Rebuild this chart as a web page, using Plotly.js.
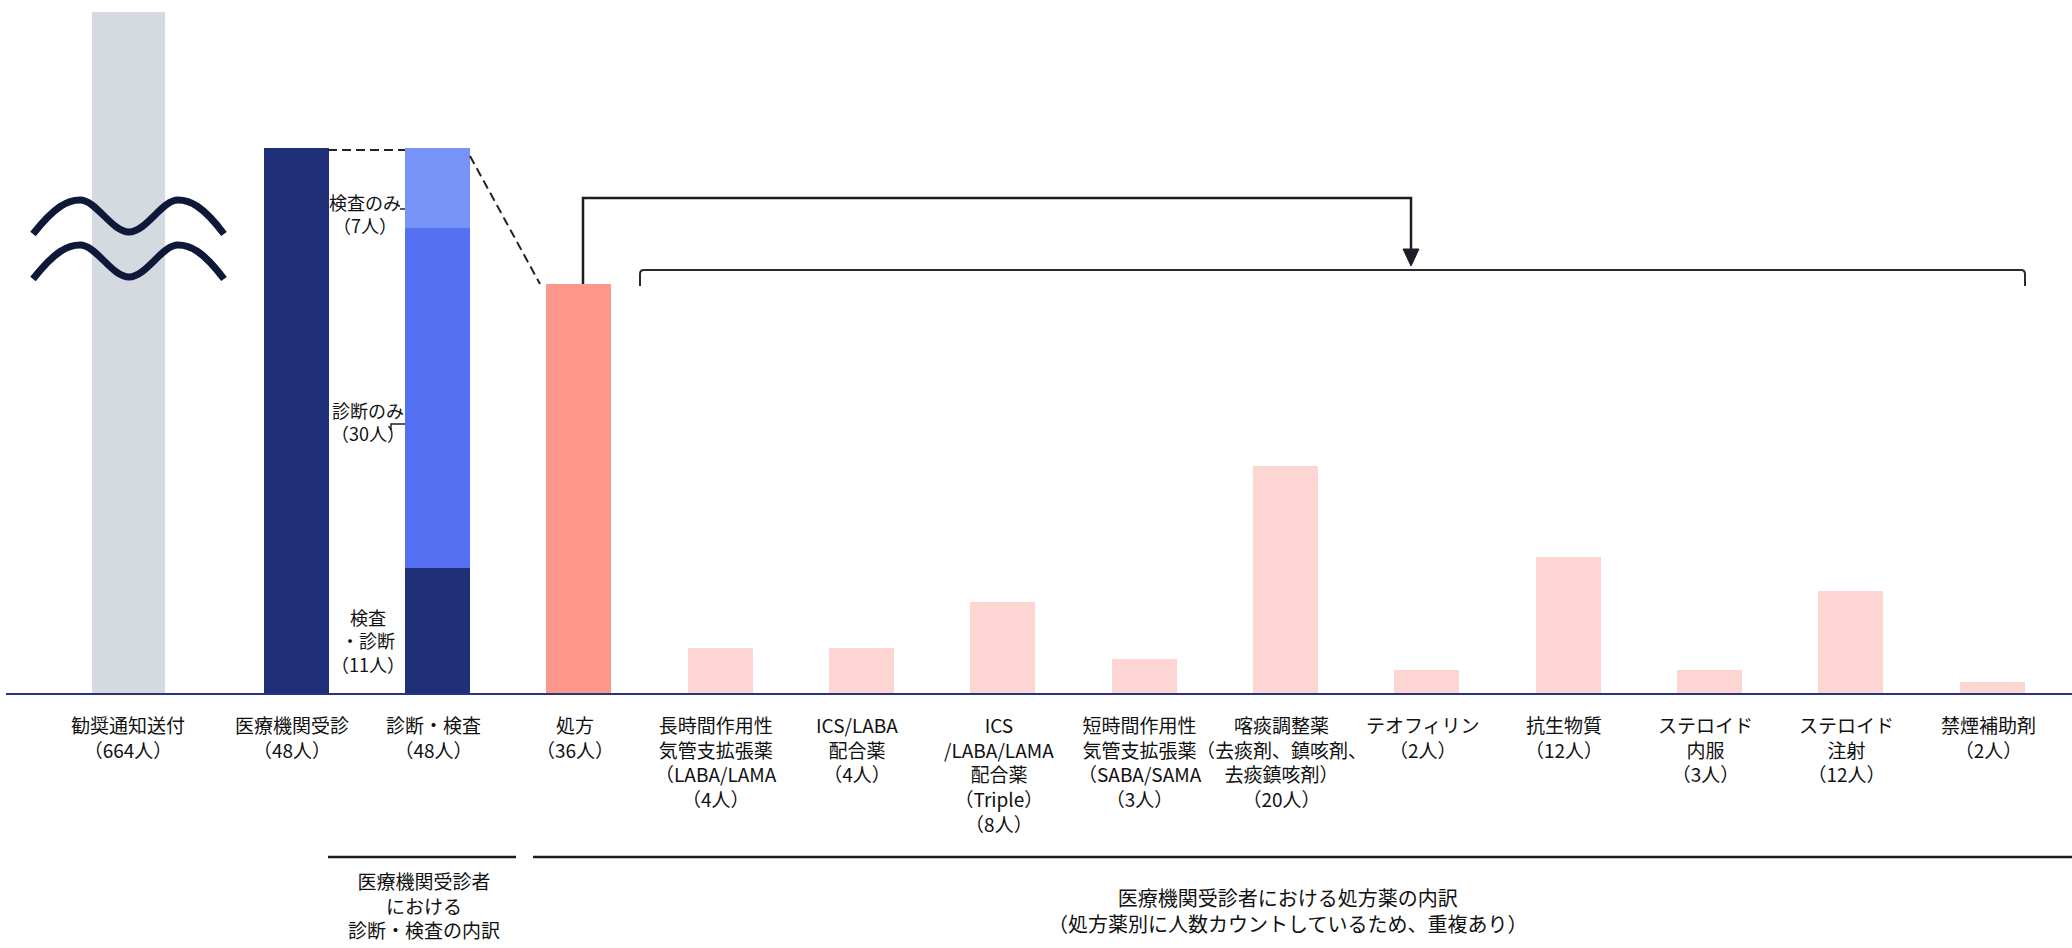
<!DOCTYPE html>
<html>
<head>
<meta charset="utf-8">
<script src="https://cdn.plot.ly/plotly-3.0.1.min.js"></script>
<style>
  html, body { margin: 0; padding: 0; background: #ffffff; }
  #chart { width: 2072px; height: 948px; }
</style>
</head>
<body>
<div id="chart"></div>
<script>
// ---------------- data ----------------
const categories = [
  '勧奨通知送付', '医療機関受診', '診断・検査', '処方',
  '長時間作用性気管支拡張薬', 'ICS/LABA配合薬', 'ICS/LABA/LAMA配合薬',
  '短時間作用性気管支拡張薬', '喀痰調整薬', 'テオフィリン', '抗生物質',
  'ステロイド内服', 'ステロイド注射', '禁煙補助剤'
];
const tickLabels = [
  '勧奨通知送付<br>（664人）',
  '医療機関受診<br>（48人）',
  '診断・検査<br>（48人）',
  '処方<br>（36人）',
  '長時間作用性<br>気管支拡張薬<br>（LABA/LAMA<br>（4人）',
  'ICS/LABA<br>配合薬<br>（4人）',
  'ICS<br>/LABA/LAMA<br>配合薬<br>（Triple）<br>（8人）',
  '短時間作用性<br>気管支拡張薬<br>（SABA/SAMA<br>（3人）',
  '喀痰調整薬<br>（去痰剤、鎮咳剤、<br>去痰鎮咳剤）<br>（20人）',
  'テオフィリン<br>（2人）',
  '抗生物質<br>（12人）',
  'ステロイド<br>内服<br>（3人）',
  'ステロイド<br>注射<br>（12人）',
  '禁煙補助剤<br>（2人）'
];
const noticeCount = [664];
const visitCount = [48];
const bothCount = [11];       // 検査・診断
const diagOnlyCount = [30];   // 診断のみ
const testOnlyCount = [7];    // 検査のみ
const prescribedCount = [36];
const drugCategories = categories.slice(4);
const drugValues = [4, 4, 8, 3, 20, 2, 12, 2, 9, 1];

const segmentLabels = ['検査<br>・診断<br>（11人）', '診断のみ<br>（30人）', '検査のみ<br>（7人）'];
const groupLabels = [
  '医療機関受診者<br>における<br>診断・検査の内訳',
  '医療機関受診者における処方薬の内訳<br>（処方薬別に人数カウントしているため、重複あり）'
];

// ---------------- geometry helpers (pixel -> paper) ----------------
const L = 6, R = 2072, T = 12, B = 693;
const W = R - L, H = B - T;
const px = p => (p - L) / W;
const py = p => (B - p) / H;
const P = (x, y) => `${px(x).toFixed(5)},${py(y).toFixed(5)}`;

const FONT = '"Noto Sans CJK JP", "Noto Sans", sans-serif';
const BAR_W = 0.46;
const TXT = '#111111';

const C = {
  grey: '#d5dae1', navy: '#1f2f78', mid: '#5470f3', light: '#7893f7',
  salmon: '#fc978a', pink: '#fdd5d3', axis: '#26357f', ink: '#1b1e26'
};

function bar(x, y, color, extra) {
  return Object.assign({
    type: 'bar', x: x, y: y, width: BAR_W,
    marker: { color: color, line: { width: 0 } },
    hoverinfo: 'skip', showlegend: false
  }, extra || {});
}

const traces = [
  bar([categories[0]], noticeCount, C.grey, { width: 0.5165, offset: -0.4434 }),
  bar([categories[1]], visitCount, C.navy),
  bar([categories[2]], bothCount, C.navy),
  bar([categories[2]], diagOnlyCount, C.mid),
  bar([categories[2]], testOnlyCount, C.light),
  bar([categories[3]], prescribedCount, C.salmon),
  bar(drugCategories, drugValues, C.pink)
];

// ---------------- annotations ----------------
const annotations = [];
categories.forEach((c, i) => {
  annotations.push({
    x: c, xref: 'x', y: 0, yref: 'paper',
    xanchor: 'center', yanchor: 'top', yshift: -16,
    xshift: i === 0 ? -27 : -4,
    text: tickLabels[i], showarrow: false, align: 'center',
    font: { family: FONT, size: 19, color: TXT }
  });
});
// segment labels beside stacked bar (x centre, block centre y)
const segPos = [[368, 640], [368, 421], [365, 214]];
segmentLabels.forEach((t, i) => {
  annotations.push({
    x: px(segPos[i][0]), xref: 'paper', y: py(segPos[i][1]), yref: 'paper',
    xanchor: 'center', yanchor: 'middle', text: t, showarrow: false, align: 'center',
    font: { family: FONT, size: 18, color: TXT }
  });
});
// group labels
annotations.push({
  x: px(424), xref: 'paper', y: py(905), yref: 'paper',
  xanchor: 'center', yanchor: 'middle', text: groupLabels[0], showarrow: false, align: 'center',
  font: { family: FONT, size: 19, color: TXT }
});
annotations.push({
  x: px(1287), xref: 'paper', y: py(910), yref: 'paper',
  xanchor: 'center', yanchor: 'middle', text: groupLabels[1], showarrow: false, align: 'center',
  font: { family: FONT, size: 20, color: TXT }
});

// ---------------- shapes ----------------
function wave(cy) {
  const d = cy - 217;
  return 'M ' + P(33, 234 + d) +
    ' C ' + P(55, 206 + d) + ' ' + P(68, 200 + d) + ' ' + P(80, 200 + d) +
    ' C ' + P(96, 200 + d) + ' ' + P(112, 232 + d) + ' ' + P(129, 232 + d) +
    ' C ' + P(146, 232 + d) + ' ' + P(162, 200 + d) + ' ' + P(178, 200 + d) +
    ' C ' + P(190, 200 + d) + ' ' + P(203, 206 + d) + ' ' + P(224, 234 + d);
}
const shapes = [
  // waves (axis break symbol)
  { type: 'path', xref: 'paper', yref: 'paper', path: wave(217), line: { color: '#0f1838', width: 7 } },
  { type: 'path', xref: 'paper', yref: 'paper', path: wave(262), line: { color: '#0f1838', width: 7 } },
  // dashed connectors
  { type: 'line', xref: 'paper', yref: 'paper', x0: px(328), y0: py(150), x1: px(405), y1: py(150),
    line: { color: '#222', width: 2, dash: '9px,5px' } },
  { type: 'line', xref: 'paper', yref: 'paper', x0: px(470), y0: py(156), x1: px(540), y1: py(284),
    line: { color: '#222', width: 2, dash: '9px,5px' } },
  // leader marks for segment labels
  { type: 'line', xref: 'paper', yref: 'paper', x0: px(400), y0: py(209), x1: px(405), y1: py(209),
    line: { color: '#222', width: 1.5 } },
  { type: 'path', xref: 'paper', yref: 'paper', path: 'M ' + P(391, 430) + ' L ' + P(391, 424) + ' L ' + P(405, 424),
    line: { color: '#222', width: 1.5 } },
  // arrow connector from 処方
  { type: 'path', xref: 'paper', yref: 'paper',
    path: 'M ' + P(583, 284) + ' L ' + P(583, 198) + ' L ' + P(1411, 198) + ' L ' + P(1411, 252),
    line: { color: C.ink, width: 2.5 } },
  { type: 'path', xref: 'paper', yref: 'paper',
    path: 'M ' + P(1403, 249) + ' L ' + P(1419, 249) + ' L ' + P(1411, 266) + ' Z',
    fillcolor: C.ink, line: { color: C.ink, width: 1 } },
  // bracket over drug bars
  { type: 'path', xref: 'paper', yref: 'paper',
    path: 'M ' + P(640, 286) + ' L ' + P(640, 274) + ' Q ' + P(640, 270) + ' ' + P(644, 270) +
          ' L ' + P(2021, 270) + ' Q ' + P(2025, 270) + ' ' + P(2025, 274) + ' L ' + P(2025, 286),
    line: { color: '#2b2b2b', width: 2 } },
  // bottom group lines
  { type: 'line', xref: 'paper', yref: 'paper', x0: px(328), y0: py(857), x1: px(516), y1: py(857),
    line: { color: '#1d1d1d', width: 2.5 } },
  { type: 'line', xref: 'paper', yref: 'paper', x0: px(533), y0: py(857), x1: px(2072), y1: py(857),
    line: { color: '#1d1d1d', width: 2.5 } }
];

const layout = {
  width: 2072, height: 948,
  margin: { l: L, r: 2072 - R, t: T, b: 948 - B, pad: 0 },
  paper_bgcolor: '#ffffff', plot_bgcolor: '#ffffff',
  barmode: 'stack', showlegend: false,
  font: { family: FONT, size: 19, color: TXT },
  xaxis: {
    type: 'category', categoryorder: 'array', categoryarray: categories,
    range: [-1.052, 13.566], showticklabels: false, ticks: '',
    showgrid: false, zeroline: false, showline: true,
    linecolor: C.axis, linewidth: 2, layer: 'below traces', fixedrange: true
  },
  yaxis: {
    range: [0, 60], visible: false, showgrid: false, zeroline: false, fixedrange: true
  },
  annotations: annotations,
  shapes: shapes
};

Plotly.newPlot('chart', traces, layout, { displayModeBar: false, staticPlot: true });
</script>
</body>
</html>
